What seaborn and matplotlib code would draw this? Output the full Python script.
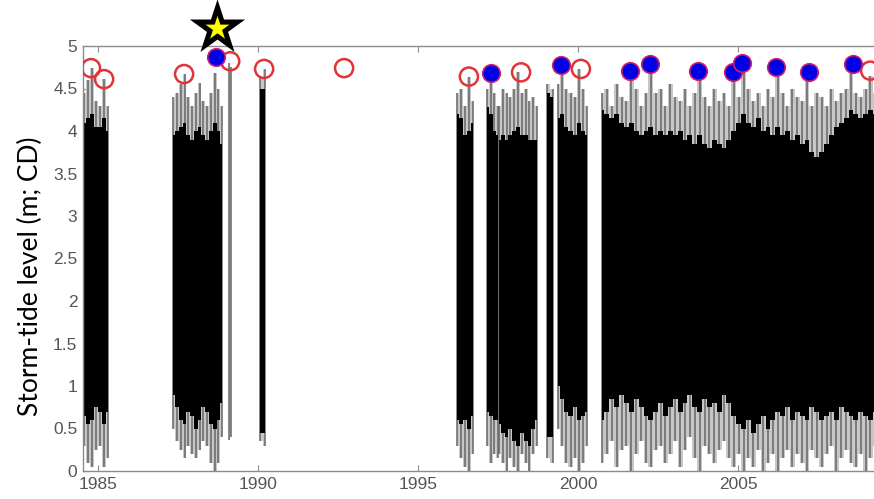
import numpy as np
import matplotlib
matplotlib.use("Agg")
import matplotlib.pyplot as plt
import seaborn as sns

# ---------------- data ----------------
# record segments (decimal years) and number of envelope samples in each
seg_start = [1984.55, 1987.35, 1989.10, 1990.06, 1996.22, 1997.16, 1997.53, 1999.03, 1999.38, 2000.75]
seg_end   = [1985.31, 1988.88, 1989.16, 1990.22, 1996.72, 1997.50, 1998.72, 1999.22, 2000.28, 2009.75]
seg_n     = [7, 14, 2, 2, 5, 4, 11, 2, 8, 60]

# highest spike tops (m CD)
hi_peak = [
    4.45, 4.6, 4.74, 4.35, 4.3, 4.61, 4.3,
    4.4, 4.45, 4.55, 4.67, 4.4, 4.3, 4.45, 4.56, 4.35, 4.3, 4.45, 4.68, 4.5, 4.3,
    4.8, 4.75,
    4.62, 4.73,
    4.45, 4.5, 4.3, 4.64, 4.35,
    4.5, 4.68, 4.45, 4.3,
    4.3, 4.5, 4.45, 4.4, 4.5, 4.69, 4.45, 4.5, 4.35, 4.4, 4.3,
    4.55, 4.5,
    4.55, 4.78, 4.5, 4.45, 4.4, 4.73, 4.5, 4.3,
    4.45, 4.5, 4.3, 4.55, 4.4, 4.35, 4.65, 4.5, 4.3, 4.45,
    4.7, 4.45, 4.5, 4.3, 4.55, 4.4, 4.35, 4.5, 4.3, 4.45,
    4.65, 4.4, 4.3, 4.5, 4.35, 4.45, 4.3, 4.62, 4.4, 4.72,
    4.5, 4.35, 4.45, 4.3, 4.5, 4.4, 4.68, 4.45, 4.3, 4.5,
    4.4, 4.35, 4.62, 4.3, 4.45, 4.4, 4.3, 4.5, 4.35, 4.45,
    4.5, 4.72, 4.45, 4.4, 4.5, 4.65, 4.45, 4.4, 4.5, 4.45,
]
# top of the solid black band
hi_core = [
    4.1, 4.15, 4.2, 4.05, 4.05, 4.15, 4.0,
    3.95, 4.0, 4.05, 4.1, 3.95, 3.9, 4.0, 4.05, 3.95, 3.9, 4.0, 4.1, 4.0, 3.85,
    2.5, 2.5,
    4.5, 4.5,
    4.2, 4.15, 3.95, 4.0, 4.1,
    4.28, 4.2, 4.0, 3.95,
    3.9, 3.95, 3.9, 3.95, 4.0, 4.05, 3.95, 3.95, 3.9, 3.9, 3.9,
    4.45, 4.4,
    4.15, 4.2, 4.05, 4.0, 3.95, 4.1, 4.0, 3.95,
    4.25, 4.2, 4.15, 4.2, 4.1, 4.05, 4.1, 4.0, 3.95, 4.0,
    4.05, 3.95, 4.0, 3.95, 4.0, 3.95, 4.0, 3.9, 3.95, 3.85,
    3.95, 3.85, 3.8, 3.9, 3.85, 3.8, 3.9, 4.0, 4.1, 4.2,
    4.1, 4.05, 4.15, 4.0, 4.05, 3.95, 4.05, 3.95, 4.0, 3.9,
    3.95, 3.85, 3.9, 3.75, 3.7, 3.75, 3.85, 3.95, 4.05, 4.1,
    4.15, 4.25, 4.2, 4.15, 4.2, 4.25, 4.2, 4.15, 4.2, 4.15,
]
# bottom of the solid black band
lo_core = [
    0.65, 0.55, 0.6, 0.75, 0.7, 0.55, 0.7,
    0.9, 0.75, 0.6, 0.55, 0.7, 0.65, 0.5, 0.6, 0.75, 0.7, 0.55, 0.5, 0.6, 0.8,
    2.5, 2.5,
    0.45, 0.45,
    0.6, 0.55, 0.6, 0.5, 0.65,
    0.7, 0.65, 0.6, 0.6,
    0.55, 0.45, 0.4, 0.5, 0.35, 0.3, 0.45, 0.35, 0.3, 0.5, 0.6,
    0.4, 0.4,
    1.0, 0.85, 0.7, 0.65, 0.75, 0.6, 0.65, 0.7,
    0.6, 0.7, 0.85, 0.75, 0.9, 0.8, 0.7, 0.85, 0.75, 0.65,
    0.6, 0.7, 0.8, 0.65, 0.75, 0.85, 0.7, 0.8, 0.9, 0.75,
    0.7, 0.85, 0.75, 0.8, 0.7, 0.9, 0.8, 0.65, 0.55, 0.5,
    0.6, 0.45, 0.55, 0.65, 0.5, 0.6, 0.7, 0.65, 0.75, 0.6,
    0.7, 0.65, 0.6, 0.75, 0.7, 0.6, 0.65, 0.7, 0.6, 0.75,
    0.7, 0.65, 0.6, 0.7, 0.65, 0.6, 0.7, 0.65, 0.7, 0.6,
]
# lowest spike bottoms
lo_peak = [
    0.3, 0.1, 0.05, 0.25, 0.3, 0.05, 0.15,
    0.5, 0.35, 0.25, 0.15, 0.3, 0.2, 0.15, 0.25, 0.35, 0.3, 0.1, 0.0, 0.1, 0.4,
    0.36, 0.4,
    0.35, 0.3,
    0.3, 0.15, 0.05, 0.0, 0.2,
    0.3, 0.1, 0.2, 0.15,
    0.2, 0.1, 0.0, 0.15, 0.05, 0.0, 0.2, 0.1, 0.0, 0.2, 0.3,
    0.15, 0.1,
    0.5, 0.3, 0.1, 0.05, 0.15, 0.0, 0.1, 0.3,
    0.1, 0.2, 0.35, 0.05, 0.25, 0.3, 0.0, 0.2, 0.35, 0.1,
    0.05, 0.25, 0.3, 0.1, 0.2, 0.35, 0.05, 0.25, 0.4, 0.15,
    0.0, 0.3, 0.2, 0.1, 0.25, 0.35, 0.15, 0.05, 0.2, 0.0,
    0.15, 0.05, 0.25, 0.0, 0.1, 0.2, 0.0, 0.15, 0.25, 0.05,
    0.2, 0.1, 0.0, 0.25, 0.15, 0.05, 0.2, 0.3, 0.0, 0.15,
    0.25, 0.1, 0.05, 0.2, 0.0, 0.15, 0.3, 0.1, 0.2, 0.05,
]

# storm events not in the design set (red open circles)
red_year  = [1984.78, 1985.19, 1987.69, 1989.13, 1990.19, 1992.69, 1996.59, 1998.22, 2000.09, 2009.13]
red_level = [4.74, 4.61, 4.67, 4.82, 4.73, 4.74, 4.64, 4.69, 4.73, 4.71]

# selected storm events (blue filled circles)
blue_year  = [1988.69, 1997.28, 1999.47, 2001.63, 2002.25, 2003.75, 2004.84, 2005.13, 2006.19, 2007.22, 2008.59]
blue_level = [4.87, 4.68, 4.78, 4.71, 4.79, 4.71, 4.69, 4.80, 4.75, 4.69, 4.79]

# highlighted event (star)
star_year  = [1988.72]
star_level = [5.21]

x_ticks = [1985, 1990, 1995, 2000, 2005]
y_ticks = [0, 0.5, 1, 1.5, 2, 2.5, 3, 3.5, 4, 4.5, 5]
y_tick_labels = ["0", "0.5", "1", "1.5", "2", "2.5", "3", "3.5", "4", "4.5", "5"]
y_label = "Storm-tide level (m; CD)"

# ---------------- figure ----------------
sns.set_theme(style="white")
plt.rcParams["font.family"] = ["Liberation Sans", "DejaVu Sans"]

fig = plt.figure(figsize=(8.74, 4.99), dpi=100)
W, H = 874, 499
ax = fig.add_axes([83 / W, (H - 471) / H, (890 - 83) / W, (471 - 46) / H])

hp = np.array(hi_peak); hc = np.array(hi_core); lc = np.array(lo_core); lp = np.array(lo_peak)
i0 = 0
for s, e, n in zip(seg_start, seg_end, seg_n):
    sl = slice(i0, i0 + n)
    t = np.linspace(s, e, n)
    # soft grey fringe between the spike extremes
    ax.fill_between(t, lp[sl], hp[sl], step="mid", color="0.78", lw=0, zorder=1)
    # individual spike streaks
    ax.vlines(t, lp[sl], hp[sl], color="0.4", lw=1.1, zorder=1.5)
    # solid black tidal band
    ax.fill_between(t, lc[sl], hc[sl], step="mid", color="black", lw=0, zorder=2)
    i0 += n

sns.scatterplot(x=red_year, y=red_level, marker="o", s=170, facecolors="none",
                edgecolor="#e2333a", linewidth=1.8, ax=ax, zorder=5)
sns.scatterplot(x=blue_year, y=blue_level, marker="o", s=160, color="#0000e6",
                edgecolor="#d0206a", linewidth=1.2, ax=ax, zorder=6)
sns.scatterplot(x=star_year, y=star_level, marker="*", s=1750, color="black",
                edgecolor="black", linewidth=0, ax=ax, zorder=7, clip_on=False)
sns.scatterplot(x=star_year, y=star_level, marker="*", s=330, color="#ffff00",
                edgecolor="#ffff00", linewidth=0, ax=ax, zorder=8, clip_on=False)

ax.set_xlim(1984.53, 1985 + (890 - 98) / 32)
ax.set_ylim(0, 5)
ax.set_xticks(x_ticks)
ax.set_xticklabels([str(v) for v in x_ticks])
ax.set_yticks(y_ticks)
ax.set_yticklabels(y_tick_labels)
ax.set_xlabel("")
ax.set_ylabel("")
for side in ["left", "bottom", "top", "right"]:
    ax.spines[side].set_color("#8c8c8c")
    ax.spines[side].set_linewidth(1.0)
ax.tick_params(axis="both", direction="in", length=4, width=0.8, color="#8c8c8c",
               labelsize=12.5, labelcolor="#555555", top=True, bottom=True,
               left=True, right=False, pad=4)
ax.grid(False)

fig.text(30 / W, 1 - 276 / H, y_label, rotation=90, ha="center", va="center",
         fontsize=19, family=["Lato", "DejaVu Sans"], color="black")

fig.savefig("out.png", dpi=100)
